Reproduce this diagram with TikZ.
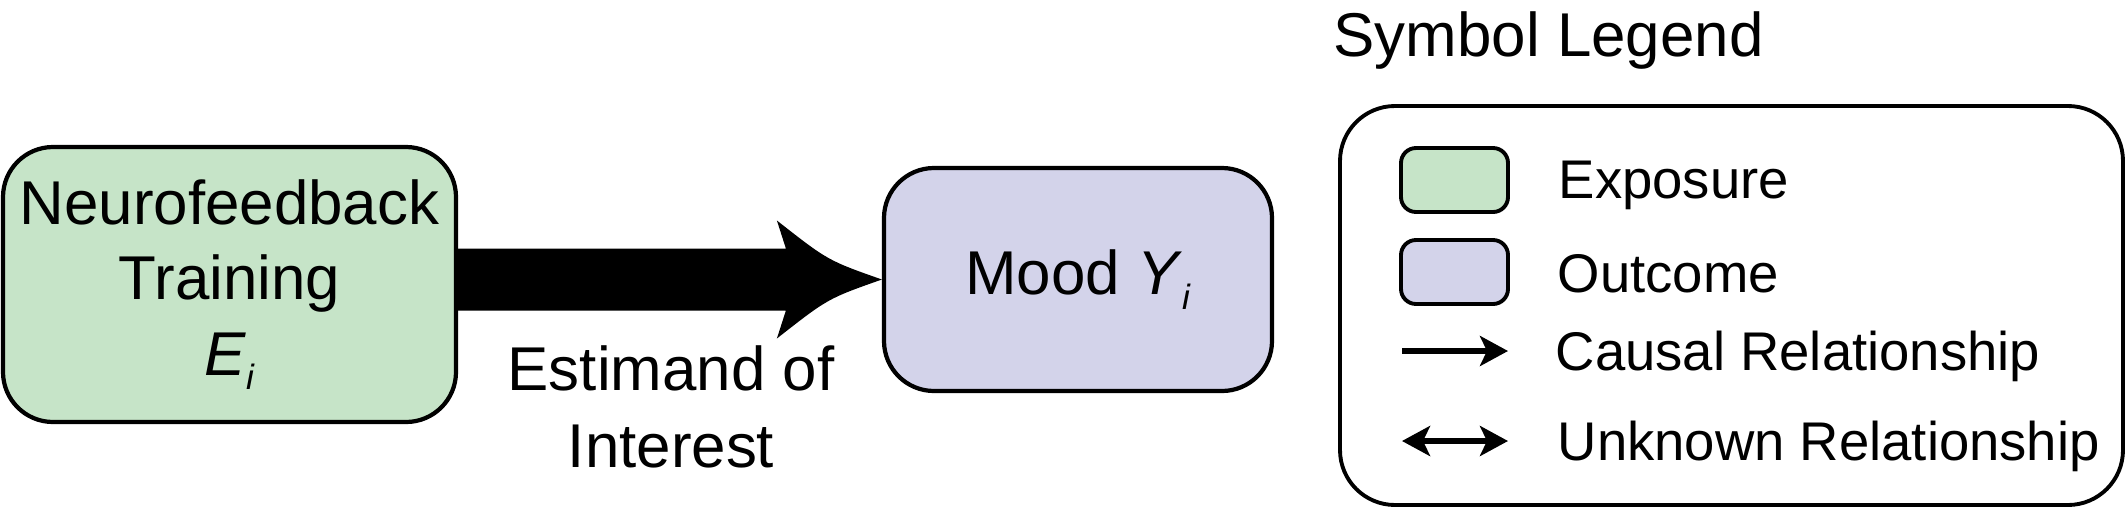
\documentclass[tikz,border=0pt]{standalone}
\usepackage{fontspec}
\setmainfont{Liberation Sans}
\usetikzlibrary{arrows.meta,calc}
\definecolor{exposuregreen}{RGB}{198,228,200}
\definecolor{outcomepurple}{RGB}{211,211,234}
\newcommand{\lowsub}[1]{\raisebox{-0.45ex}{\fontsize{10}{10}\selectfont\textit{#1}}}
\tikzset{
  varbox/.style={draw, line width=1.2pt, rounded corners=0.5cm, align=center, inner sep=0pt},
  keybox/.style={draw, line width=1.1pt, rounded corners=0.15cm, minimum width=1.07cm, minimum height=0.64cm, inner sep=0pt},
  keytext/.style={anchor=base west, inner sep=0pt, font=\fontsize{15.5}{18}\selectfont},
  keyarrow/.style={line width=1.8pt, >={Stealth[length=0.28cm, width=0.3cm, inset=0.07cm]}},
}
\begin{document}
\begin{tikzpicture}[font=\fontsize{17.6}{21.5}\selectfont]
    \useasboundingbox (0,0) rectangle (21.27,5.07);
    % exposure and outcome
    \node[varbox, fill=exposuregreen, minimum width=4.53cm, minimum height=2.75cm] (exposure) at (2.295,2.225) {Neurofeedback\\Training\\\textit{E}\lowsub{i}};
    \node[varbox, fill=outcomepurple, minimum width=3.88cm, minimum height=2.23cm] (outcome) at (10.78,2.275) {Mood \textit{Y}\lowsub{i}};
    % big arrow
    \coordinate (head-tip) at (outcome.west);
    \coordinate (head-up) at ($(head-tip)+(-1.05,0.59)$);
    \coordinate (head-down) at ($(head-tip)+(-1.05,-0.59)$);
    \coordinate (neck-up) at ($(head-tip)+(-0.96,0.31)$);
    \coordinate (neck-down) at ($(head-tip)+(-0.96,-0.31)$);
    \fill (exposure.east |- neck-up) -- (neck-up) -- (head-up)
        .. controls ($(head-tip)+(-0.54,0.19)$) .. (head-tip)
        .. controls ($(head-tip)+(-0.54,-0.19)$) .. (head-down)
        -- (neck-down) -- (exposure.east |- neck-down) -- cycle;
    \node[align=center, inner sep=0pt] (estimand) at (6.71,1.0) {Estimand of\\[0.5pt]Interest};
    % legend
    \node[anchor=base west, inner sep=0pt] (legend-title) at (13.33,4.51) {Symbol Legend};
    \node[draw, line width=1.1pt, rounded corners=0.55cm, minimum width=7.83cm, minimum height=3.99cm] (legend) at (17.315,2.015) {};
    \node[keybox, fill=exposuregreen] (key-exposure) at (14.545,3.27) {};
    \node[keybox, fill=outcomepurple] (key-outcome) at (14.545,2.35) {};
    \node[keytext] (text-exposure) at (15.58,3.09) {Exposure};
    \node[keytext] (text-outcome) at (15.57,2.15) {Outcome};
    \node[keytext] (text-causal) at (15.55,1.37) {Causal Relationship};
    \node[keytext] (text-unknown) at (15.57,0.47) {Unknown Relationship};
    % legend arrows
    \coordinate (causal-start) at (14.02,1.56);
    \coordinate (causal-end) at (15.08,1.56);
    \coordinate (unknown-start) at (14.02,0.66);
    \coordinate (unknown-end) at (15.08,0.66);
    \draw[keyarrow, ->] (causal-start) -- (causal-end);
    \draw[keyarrow, <->] (unknown-start) -- (unknown-end);
\end{tikzpicture}
\end{document}
